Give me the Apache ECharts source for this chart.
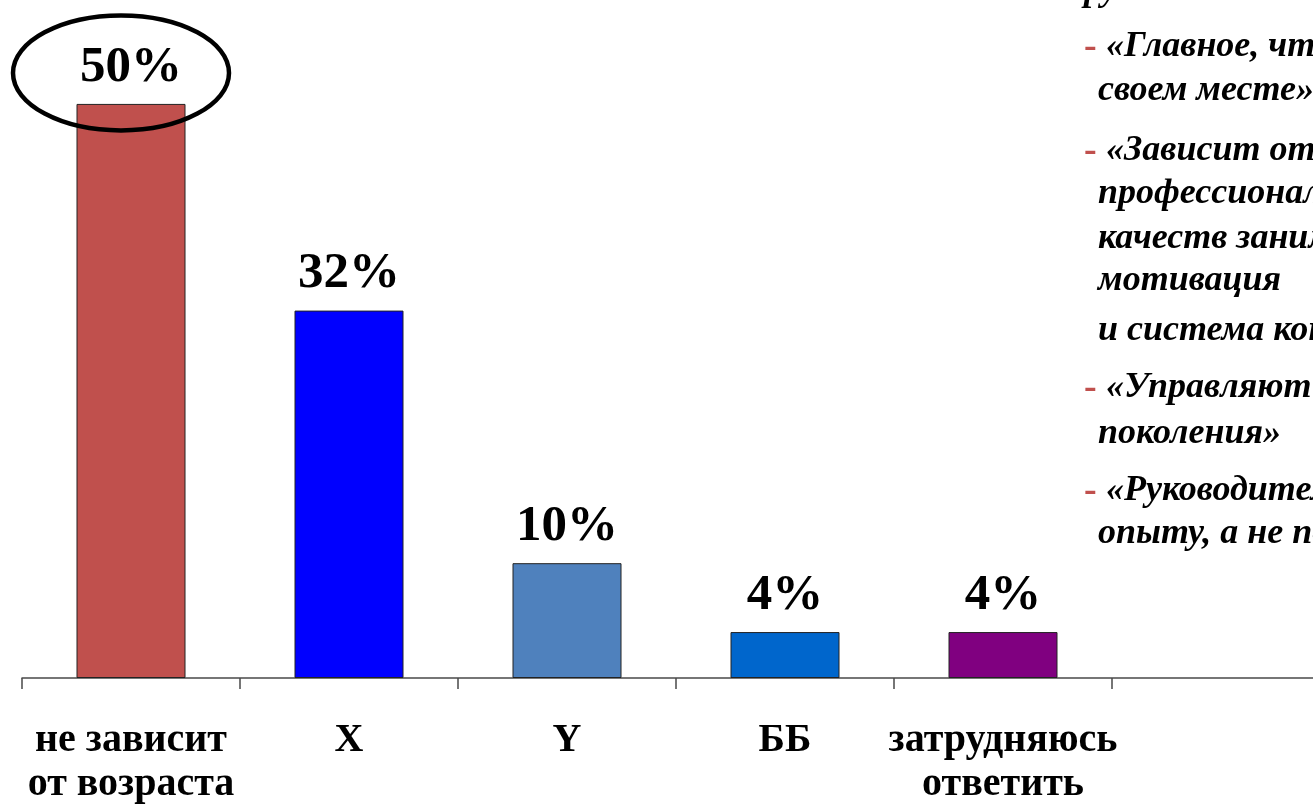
<!DOCTYPE html>
<html>
<head>
<meta charset="utf-8">
<script src="https://cdn.jsdelivr.net/npm/echarts@6/dist/echarts.min.js"></script>
<style>
  html, body { margin: 0; padding: 0; background: #ffffff; overflow: hidden; }
  /* the sixth (empty) category runs past the right edge of the window */
  #chart { width: 1330px; height: 807px; }
</style>
</head>
<body>
<div id="chart"></div>
<script>
// Ответы: кто управляет компанией (по поколениям)
const categories = ['не зависит\nот возраста', 'X', 'Y', 'ББ', 'затрудняюсь\nответить', ''];
const shares = [50, 32, 10, 4, 4, null];
const barColors = ['#C0504D', '#0000FF', '#4F81BD', '#0066CC', '#800080', '#ffffff'];

// Комментарии респондентов (справа)
const heading = 'руководителей разного возраста:';
const comments = [
  ['«Главное, чтобы человек был на', 'своем месте»'],
  ['«Зависит от', 'профессиональных и личных', 'качеств занимающего должность,', 'мотивация', 'и система контроля»'],
  ['«Управляют представители старшего', 'поколения»'],
  ['«Руководителей назначают по', 'опыту, а не по возрасту»']
];
const commentBaselines = [
  [56, 100],
  [160, 203, 248, 290, 340],
  [397, 443],
  [500, 543]
];

const SERIF = '"Liberation Serif", "Times New Roman", "DejaVu Serif", serif';
const NOTE_FONT = 'italic bold 36px ' + SERIF;

const chart = echarts.init(document.getElementById('chart'), null, { renderer: 'canvas' });

const option = {
  backgroundColor: '#ffffff',
  animation: false,
  grid: { left: 22, right: 0, top: 46.5, height: 637.5, containLabel: false },
  xAxis: {
    type: 'category',
    data: categories,
    boundaryGap: true,
    axisLine: { show: true, lineStyle: { color: '#4a4a4a', width: 1.5 } },
    axisTick: { show: true, length: 11, lineStyle: { color: '#4a4a4a', width: 1.5 } },
    axisLabel: {
      interval: 0,
      margin: 41,
      color: '#000000',
      fontFamily: SERIF,
      fontWeight: 'bold',
      fontSize: 40,
      lineHeight: 44
    },
    splitLine: { show: false }
  },
  yAxis: {
    type: 'value',
    min: 0,
    max: 55,
    show: false,
    splitLine: { show: false }
  },
  series: [{
    type: 'bar',
    barWidth: '50%',
    data: shares.map((v, i) => ({
      value: v,
      itemStyle: { color: barColors[i], borderColor: '#222222', borderWidth: 1 }
    })),
    label: {
      show: true,
      position: 'top',
      distance: 11,
      formatter: p => (p.value == null ? '' : p.value + '%'),
      color: '#000000',
      fontFamily: SERIF,
      fontWeight: 'bold',
      fontSize: 51
    }
  }]
};

chart.setOption(option);

// Text block on the right and the highlight ring around the leading value
function buildGraphics() {
  const g = [];
  const mid = b => b - 9; // baseline -> vertical middle for 36px text
  // partially visible heading line at the very top
  g.push({
    type: 'text', x: 1084, y: mid(0),
    style: { text: heading, fill: '#000', font: NOTE_FONT, verticalAlign: 'middle' }
  });
  comments.forEach((para, pi) => {
    para.forEach((line, li) => {
      const yMid = mid(commentBaselines[pi][li]);
      if (li === 0) {
        g.push({
          type: 'text', x: 1084, y: yMid,
          style: { text: '-', fill: '#C0504D', font: 'bold 38px ' + SERIF, verticalAlign: 'middle' }
        });
        g.push({
          type: 'text', x: 1106, y: yMid,
          style: { text: line, fill: '#000', font: NOTE_FONT, verticalAlign: 'middle' }
        });
      } else {
        g.push({
          type: 'text', x: 1098, y: yMid,
          style: { text: line, fill: '#000', font: NOTE_FONT, verticalAlign: 'middle' }
        });
      }
    });
  });
  // ring around the top bar's value label
  const top = chart.convertToPixel({ seriesIndex: 0 }, [0, shares[0]]);
  g.push({
    type: 'ellipse',
    shape: { cx: top[0] - 10, cy: top[1] - 31, rx: 108, ry: 57.5 },
    style: { fill: 'none', stroke: '#000000', lineWidth: 4.5 },
    z: 10
  });
  return g;
}

chart.setOption({ graphic: buildGraphics() });
</script>
</body>
</html>
